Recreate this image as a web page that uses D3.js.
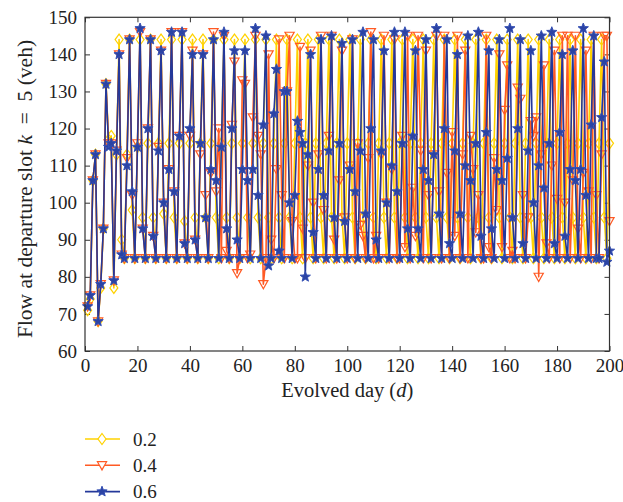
<!DOCTYPE html>
<html>
<head>
<meta charset="utf-8">
<script src="https://cdn.jsdelivr.net/npm/d3@7"></script>
<style>
  html, body { margin: 0; padding: 0; background: #fff; }
  svg { display: block; }
  text { font-family: "Liberation Serif", "Times New Roman", serif; fill: #222; }
</style>
</head>
<body>
<div id="chart"></div>
<script>
// Flow at departure slot k = 5 over 200 evolved days, for three parameter values
const days = d3.range(1, 201);

const seriesNames = ["0.2", "0.4", "0.6"];

const flow02 = [
  71, 74, 106, 113, 68, 77, 93, 132, 117, 118, 77, 113,
  144, 90, 85, 113, 144, 98, 85, 115, 144, 96, 85, 116,
  144, 96, 85, 116, 144, 97, 85, 116, 144, 96, 85, 116,
  144, 95, 85, 116, 144, 96, 85, 116, 144, 96, 85, 116,
  144, 96, 85, 116, 144, 96, 85, 116, 144, 96, 85, 116,
  144, 96, 85, 116, 144, 96, 85, 116, 144, 96, 85, 116,
  144, 96, 85, 116, 144, 96, 85, 116, 144, 96, 85, 116,
  144, 96, 85, 116, 144, 96, 85, 116, 144, 96, 85, 116,
  144, 96, 85, 116, 144, 96, 85, 116, 144, 96, 85, 116,
  144, 96, 85, 116, 144, 96, 85, 116, 144, 96, 85, 116,
  144, 96, 85, 116, 144, 96, 85, 116, 144, 96, 85, 116,
  144, 96, 85, 116, 144, 96, 85, 116, 144, 96, 85, 116,
  144, 96, 85, 116, 144, 96, 85, 116, 144, 96, 85, 116,
  144, 96, 85, 116, 144, 96, 85, 116, 144, 96, 85, 116,
  144, 96, 85, 116, 144, 96, 85, 116, 144, 96, 85, 116,
  144, 96, 85, 116, 144, 96, 85, 116, 144, 96, 85, 116,
  144, 96, 85, 116, 144, 96, 85, 116
];

const flow04 = [
  72, 75, 106, 113, 68, 78, 93, 132, 116, 116, 79, 114,
  140, 86, 85, 112, 144, 102, 85, 116,
  146, 93, 85, 120, 144, 91, 85, 115,
  141, 100, 85, 109, 146, 103, 85, 118,
  146, 89, 85, 118, 141, 90, 85, 113,
  140, 102, 85, 108, 146, 103, 120, 85,
  145, 87, 85, 121, 138, 81, 85, 133,
  132, 85, 86, 123, 145, 118, 113, 78,
  85, 140, 90, 85, 109, 144, 102, 85,
  130, 145, 95, 85, 85, 142, 93, 85,
  110, 141, 100, 85, 113, 145, 98, 85,
  118, 145, 90, 85, 106, 141, 96, 85,
  110, 144, 85, 116, 94, 91, 85, 112,
  146, 85, 91, 85, 113, 145, 100, 85,
  109, 144, 85, 85, 118, 88, 145, 85,
  104, 91, 145, 114, 85, 141, 102, 85,
  113, 145, 103, 85, 145, 108, 85, 119,
  91, 145, 85, 113, 141, 85, 118, 109,
  92, 102, 85, 85, 145, 88, 85, 112,
  98, 140, 88, 125, 137, 85, 87, 85,
  131, 128, 102, 85, 96, 122, 118, 123,
  80, 113, 137, 89, 85, 110, 141, 101,
  85, 145, 100, 145, 85, 106, 145, 93,
  85, 108, 141, 103, 85, 145, 102, 85,
  113, 145, 145, 95
];

const flow06 = [
  72, 75, 106, 113, 68, 78, 93, 132, 115, 116, 79, 114,
  140, 86, 85, 110, 144, 103, 85, 115,
  147, 93, 85, 120, 144, 91, 85, 114,
  141, 100, 85, 109, 146, 103, 85, 118,
  146, 89, 85, 120, 140, 90, 85, 116,
  140, 96, 85, 109, 144, 106, 85, 115,
  146, 93, 85, 120, 141, 90, 85, 109,
  141, 106, 85, 109, 147, 102, 85, 121,
  145, 83, 85, 124, 136, 87, 85, 130,
  130, 100, 85, 102, 122, 119, 116, 80,
  113, 140, 92, 85, 109, 144, 102, 85,
  114, 145, 96, 85, 116, 143, 95, 85,
  109, 144, 103, 85, 114, 146, 97, 85,
  120, 144, 90, 85, 114, 141, 100, 85,
  110, 146, 103, 85, 116, 146, 93, 85,
  118, 141, 93, 85, 109, 144, 106, 85,
  113, 147, 97, 85, 120, 144, 89, 85,
  114, 140, 97, 85, 110, 145, 106, 85,
  116, 146, 91, 85, 119, 141, 93, 85,
  109, 144, 106, 85, 112, 147, 96, 85,
  120, 144, 89, 85, 114, 141, 100, 85,
  110, 145, 104, 85, 116, 146, 89, 85,
  119, 140, 91, 85, 109, 141, 106, 85,
  109, 147, 102, 85, 121, 145, 85, 85,
  123, 138, 84, 87
];

const xTicks = d3.range(0, 201, 20);
const yTicks = d3.range(60, 151, 10);

const W = 623, H = 502;
const plotL = 85, plotR = 609.5, plotT = 17.3, plotB = 351;

const svg = d3.select("#chart").append("svg")
  .attr("width", W).attr("height", H);

const x = d3.scaleLinear().domain([0, 200]).range([plotL, plotR]);
const y = d3.scaleLinear().domain([60, 150]).range([plotB, plotT]);

const colors = { "0.2": "#FFD200", "0.4": "#FF5A24", "0.6": "#24389A" };

// marker shapes
const diamondPath = "M0,-5.5L4,0L0,5.5L-4,0Z";
const trianglePath = "M-4.6,-3.6L4.6,-3.6L0,4.6Z";
function starPath(R, r) {
  const pts = [];
  for (let i = 0; i < 10; i++) {
    const a = -Math.PI / 2 + i * Math.PI / 5;
    const rad = i % 2 === 0 ? R : r;
    pts.push([rad * Math.cos(a), rad * Math.sin(a)]);
  }
  return "M" + pts.map(p => p[0].toFixed(2) + "," + p[1].toFixed(2)).join("L") + "Z";
}
const star = starPath(5.4, 2.3);

const series = [
  { name: "0.2", values: flow02, path: diamondPath, fill: "none", stroke: colors["0.2"], sw: 1.2 },
  { name: "0.4", values: flow04, path: trianglePath, fill: "none", stroke: colors["0.4"], sw: 1.2 },
  { name: "0.6", values: flow06, path: star, fill: "#2B43A4", stroke: "#3550B4", sw: 1 }
];

// axes (ticks pointing into the plot)
const gx = svg.append("g").attr("transform", `translate(0,${plotB})`)
  .call(d3.axisBottom(x).tickValues(xTicks).tickSizeInner(-5).tickSizeOuter(0).tickPadding(8));
const gy = svg.append("g").attr("transform", `translate(${plotL},0)`)
  .call(d3.axisLeft(y).tickValues(yTicks).tickSizeInner(-5).tickSizeOuter(0).tickPadding(8));
const gxt = svg.append("g").attr("transform", `translate(0,${plotT})`)
  .call(d3.axisTop(x).tickValues(xTicks).tickSizeInner(-5).tickSizeOuter(0).tickFormat(""));
const gyr = svg.append("g").attr("transform", `translate(${plotR},0)`)
  .call(d3.axisRight(y).tickValues(yTicks).tickSizeInner(-5).tickSizeOuter(0).tickFormat(""));

[gx, gy, gxt, gyr].forEach(g => {
  g.select(".domain").remove();
  g.selectAll("line").attr("stroke", "#333").attr("stroke-width", 1);
  g.selectAll("text").style("font-size", "19px")
    .style("font-family", "'Liberation Serif', serif").attr("fill", "#222");
});

// series lines and markers
const line = d3.line().x((d, i) => x(days[i])).y(d => y(d));
const plot = svg.append("g");
series.forEach(s => {
  plot.append("path").datum(s.values)
    .attr("d", line).attr("fill", "none")
    .attr("stroke", colors[s.name])
    .attr("stroke-width", 1.6).attr("stroke-linejoin", "round");
  plot.append("g").selectAll("path").data(s.values).join("path")
    .attr("transform", (d, i) => `translate(${x(days[i])},${y(d)})`)
    .attr("d", s.path).attr("fill", s.fill)
    .attr("stroke", s.stroke).attr("stroke-width", s.sw);
});

// frame
svg.append("rect").attr("x", plotL).attr("y", plotT)
  .attr("width", plotR - plotL).attr("height", plotB - plotT)
  .attr("fill", "none").attr("stroke", "#333").attr("stroke-width", 1.2);

// axis titles
const xt = svg.append("text").attr("x", (plotL + plotR) / 2).attr("y", 397)
  .attr("text-anchor", "middle").style("font-size", "20.5px");
xt.append("tspan").text("Evolved day (");
xt.append("tspan").style("font-style", "italic").text("d");
xt.append("tspan").text(")");

const yt = svg.append("text")
  .attr("transform", "translate(32,189) rotate(-90)")
  .attr("text-anchor", "middle").style("font-size", "21.5px");
yt.append("tspan").text("Flow at departure slot ");
yt.append("tspan").style("font-style", "italic").text("k");
yt.append("tspan").text("\u2002=\u20025 (veh)");

// legend
const leg = svg.append("g");
series.forEach((s, i) => {
  const ly = 439 + i * 26.3;
  leg.append("line").attr("x1", 85).attr("x2", 120).attr("y1", ly).attr("y2", ly)
    .attr("stroke", colors[s.name]).attr("stroke-width", 1.6);
  leg.append("path").attr("transform", `translate(102,${ly})`)
    .attr("d", s.path).attr("fill", s.name === "0.6" ? s.fill : "#fff")
    .attr("stroke", s.stroke).attr("stroke-width", s.sw);
  leg.append("text").attr("x", 133).attr("y", ly).attr("dy", "0.35em")
    .style("font-size", "19px").text(s.name);
});
</script>
</body>
</html>
